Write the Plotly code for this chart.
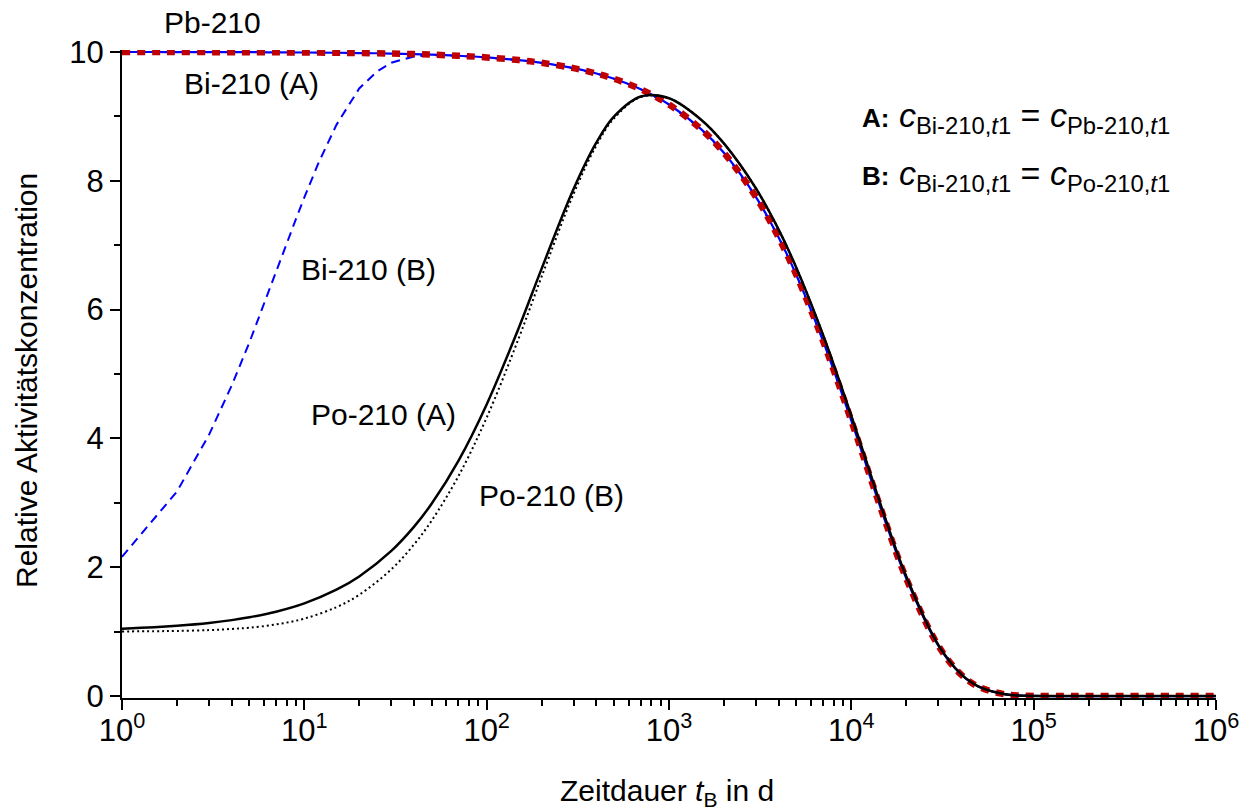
import plotly.graph_objects as go

# ---- data ----
t_days = [1, 1.5, 2, 3, 4, 5, 7, 10, 15, 20, 30, 40, 50, 70, 100, 150, 200, 300, 400, 500,
          700, 1000, 1500, 2000, 3000, 4000, 5000, 7000, 10000, 15000, 20000, 30000, 40000,
          50000, 70000, 100000, 150000, 200000, 300000, 500000, 700000, 1000000]

pb210 = [9.999, 9.999, 9.998, 9.997, 9.997, 9.996, 9.994, 9.991, 9.987, 9.983, 9.975,
         9.966, 9.958, 9.941, 9.915, 9.873, 9.831, 9.748, 9.665, 9.583, 9.421, 9.184,
         8.801, 8.434, 7.746, 7.114, 6.533, 5.510, 4.274, 2.794, 1.827, 0.781, 0.334,
         0.143, 0.026, 0.002, 0.0, 0.0, 0.0, 0.0, 0.0, 0.0]

bi210_a = [9.999, 9.999, 9.998, 9.997, 9.997, 9.996, 9.994, 9.991, 9.987, 9.983, 9.975,
           9.966, 9.958, 9.941, 9.915, 9.873, 9.831, 9.748, 9.665, 9.583, 9.421, 9.184,
           8.801, 8.434, 7.746, 7.114, 6.533, 5.510, 4.274, 2.794, 1.827, 0.781, 0.334,
           0.143, 0.026, 0.002, 0.0, 0.0, 0.0, 0.0, 0.0, 0.0]

po210_a = [1.045, 1.067, 1.090, 1.134, 1.179, 1.223, 1.310, 1.439, 1.651, 1.857, 2.254,
           2.631, 2.989, 3.652, 4.528, 5.716, 6.632, 7.875, 8.595, 8.999, 9.309, 9.281,
           8.948, 8.580, 7.880, 7.237, 6.646, 5.605, 4.348, 2.843, 1.859, 0.794, 0.340,
           0.145, 0.027, 0.002, 0.0, 0.0, 0.0, 0.0, 0.0, 0.0]

po210_b = [1.003, 1.007, 1.011, 1.024, 1.042, 1.062, 1.112, 1.203, 1.380, 1.572, 1.968,
           2.355, 2.726, 3.414, 4.323, 5.557, 6.508, 7.800, 8.550, 8.971, 9.299, 9.279,
           8.948, 8.580, 7.880, 7.237, 6.646, 5.605, 4.348, 2.843, 1.859, 0.794, 0.340,
           0.145, 0.027, 0.002, 0.0, 0.0, 0.0, 0.0, 0.0, 0.0]

t_bi_b = [1, 2, 3, 4, 5, 6, 7, 8, 9, 10, 12, 15, 20, 25, 30, 40, 50, 70, 100, 150, 200,
          300, 400, 500, 700, 1000, 1500, 2000, 3000, 4000, 5000, 7000, 10000, 15000,
          20000, 30000, 40000, 50000, 70000, 100000, 1000000]
bi210_b = [2.162, 3.174, 4.056, 4.824, 5.492, 6.074, 6.581, 7.023, 7.407, 7.742, 8.287,
           8.868, 9.433, 9.695, 9.833, 9.930, 9.949, 9.941, 9.915, 9.873, 9.831, 9.748,
           9.665, 9.583, 9.421, 9.184, 8.801, 8.434, 7.746, 7.114, 6.533, 5.510, 4.274,
           2.794, 1.827, 0.781, 0.334, 0.143, 0.026, 0.002, 0.0]

x_tick_vals = [1, 10, 100, 1000, 10000, 100000, 1000000]
x_tick_text = ["10<sup>0</sup>", "10<sup>1</sup>", "10<sup>2</sup>", "10<sup>3</sup>",
               "10<sup>4</sup>", "10<sup>5</sup>", "10<sup>6</sup>"]
x_minor_vals = [m * 10 ** e for e in range(6) for m in range(2, 10)]
y_tick_vals = [0, 2, 4, 6, 8, 10]
y_minor_vals = [1, 3, 5, 7, 9]

FONT = "Liberation Sans, Arial, sans-serif"

fig = go.Figure()
fig.add_trace(go.Scatter(x=t_bi_b, y=bi210_b, mode="lines", name="Bi-210 (B)",
                         line=dict(color="#0000FF", width=2, dash="9px,6px")))
fig.add_trace(go.Scatter(x=t_days, y=bi210_a, mode="lines", name="Bi-210 (A)",
                         line=dict(color="#0000FF", width=2.2, shape="spline", smoothing=1)))
fig.add_trace(go.Scatter(x=t_days, y=pb210, mode="lines", name="Pb-210",
                         line=dict(color="#C00000", width=6.5, dash="8px,7px",
                                   shape="spline", smoothing=1)))
fig.add_trace(go.Scatter(x=t_days, y=po210_b, mode="lines", name="Po-210 (B)",
                         line=dict(color="black", width=2, dash="2px,3px",
                                   shape="spline", smoothing=1)))
fig.add_trace(go.Scatter(x=t_days, y=po210_a, mode="lines", name="Po-210 (A)",
                         line=dict(color="black", width=2.5, shape="spline", smoothing=1)))

# plot area in pixels: x 122..1216, y 50..698
L, R, T, B = 122, 38, 50, 114
W, H = 1254, 812
PW, PH = W - L - R, H - T - B


def px(xp):
    return (xp - L) / PW


def py(yp):
    return (H - B - yp) / PH


labels = [
    ("Pb-210", 212, 22),
    ("Bi-210 (A)", 251, 83),
    ("Bi-210 (B)", 368, 269),
    ("Po-210 (A)", 383, 414),
    ("Po-210 (B)", 551, 495),
]
annotations = []
for txt, xp, yp in labels:
    annotations.append(dict(text=txt, xref="paper", yref="paper", x=px(xp), y=py(yp),
                            xanchor="center", yanchor="middle", showarrow=False,
                            font=dict(family=FONT, size=30, color="black")))

eq_a = ('<b><span style="font-size:26px">A:</span></b> <i>c</i><sub>Bi-210,<i>t</i>1</sub>'
        ' = <i>c</i><sub>Pb-210,<i>t</i>1</sub>')
eq_b = ('<b><span style="font-size:26px">B:</span></b> <i>c</i><sub>Bi-210,<i>t</i>1</sub>'
        ' = <i>c</i><sub>Po-210,<i>t</i>1</sub>')
for txt, yp in [(eq_a, 117), (eq_b, 175)]:
    annotations.append(dict(text=txt, xref="paper", yref="paper", x=px(860), y=py(yp),
                            xanchor="left", yanchor="middle", showarrow=False,
                            font=dict(family=FONT, size=34, color="black")))

annotations.append(dict(text="Zeitdauer <i>t</i><sub>B</sub> in d", xref="paper", yref="paper",
                        x=px(667), y=py(792), xanchor="center", yanchor="middle",
                        showarrow=False, font=dict(family=FONT, size=30, color="black")))
annotations.append(dict(text="Relative Aktivitätskonzentration", xref="paper", yref="paper",
                        x=px(27), y=py(381), xanchor="center", yanchor="middle",
                        textangle=-90, showarrow=False,
                        font=dict(family=FONT, size=30, color="black")))

fig.update_layout(
    width=W, height=H,
    margin=dict(l=L, r=R, t=T, b=B, pad=0),
    paper_bgcolor="white", plot_bgcolor="white",
    showlegend=False,
    font=dict(family=FONT, size=30, color="black"),
    annotations=annotations,
    xaxis=dict(type="log", range=[0, 6], showgrid=False, zeroline=False,
               showline=True, linecolor="black", linewidth=2,
               tickmode="array", tickvals=x_tick_vals, ticktext=x_tick_text,
               ticks="outside", ticklen=10, tickwidth=2, tickcolor="black",
               ticklabelstandoff=-6,
               tickfont=dict(family=FONT, size=31, color="black"),
               minor=dict(tickmode="array", tickvals=x_minor_vals, ticks="outside",
                          ticklen=6, tickwidth=2, tickcolor="black", showgrid=False),
               automargin=False),
    yaxis=dict(range=[-0.03, 10.03], showgrid=False, zeroline=False,
               showline=True, linecolor="black", linewidth=2,
               tickmode="array", tickvals=y_tick_vals,
               ticks="outside", ticklen=10, tickwidth=2, tickcolor="black",
               tickfont=dict(family=FONT, size=31, color="black"),
               minor=dict(tickmode="array", tickvals=y_minor_vals, ticks="outside",
                          ticklen=6, tickwidth=2, tickcolor="black", showgrid=False),
               automargin=False),
)

fig.write_html("out.html")
